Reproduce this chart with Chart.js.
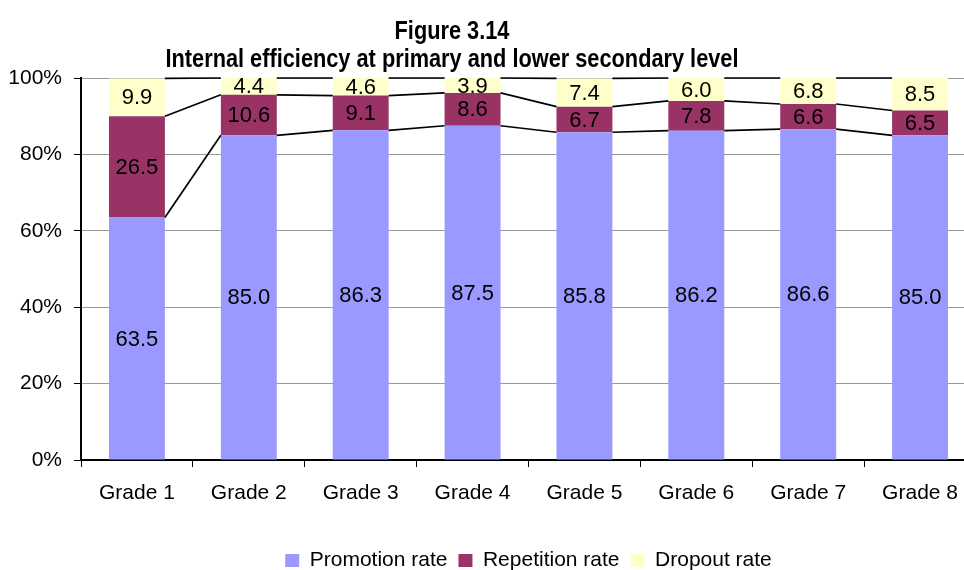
<!DOCTYPE html>
<html>
<head>
<meta charset="utf-8">
<script src="https://cdn.jsdelivr.net/npm/chart.js@4"></script>
<style>
  html, body { margin: 0; padding: 0; background: #fff; overflow: hidden; }
  #wrap { position: relative; width: 976px; height: 570px; }
  #titulo {
    position: absolute; left: 0; width: 904px; top: 16px;
    text-align: center; font-family: "Liberation Sans Narrow", "Arial Narrow", "Liberation Sans", Arial, sans-serif;
    font-weight: bold; font-size: 25px; line-height: 28px; color: #000;
    transform: scaleX(0.87);
  }
</style>
</head>
<body>
<div id="wrap">
  <canvas id="chart" width="976" height="570"></canvas>
  <div id="titulo">Figure 3.14<br>Internal efficiency at primary and lower secondary level</div>
</div>
<script>
// --- Datos ---
const grados = ['Grade 1', 'Grade 2', 'Grade 3', 'Grade 4', 'Grade 5', 'Grade 6', 'Grade 7', 'Grade 8'];
const promocion = [63.5, 85.0, 86.3, 87.5, 85.8, 86.2, 86.6, 85.0];
const repeticion = [26.5, 10.6, 9.1, 8.6, 6.7, 7.8, 6.6, 6.5];
const abandono = [9.9, 4.4, 4.6, 3.9, 7.4, 6.0, 6.8, 8.5];
const ticksY = [0, 20, 40, 60, 80, 100];

const fuente = '"Liberation Sans", Arial, sans-serif';

// etiquetas dentro de cada segmento
const etiquetasPlugin = {
  id: 'etiquetas',
  afterDatasetsDraw(chart) {
    const ctx = chart.ctx;
    ctx.save();
    ctx.font = '22px ' + fuente;
    ctx.fillStyle = '#000';
    ctx.textAlign = 'center';
    ctx.textBaseline = 'middle';
    chart.data.datasets.forEach((ds, i) => {
      chart.getDatasetMeta(i).data.forEach((bar, j) => {
        const y = (bar.y + bar.base) / 2;
        ctx.fillText(ds.data[j].toFixed(1), bar.x, y + 1);
      });
    });
    ctx.restore();
  }
};

// lineas de serie entre barras (estilo Excel)
const lineasSerie = {
  id: 'lineasSerie',
  afterDatasetsDraw(chart) {
    const ctx = chart.ctx;
    ctx.save();
    ctx.strokeStyle = '#000';
    ctx.lineWidth = 1.7;
    chart.data.datasets.forEach((ds, i) => {
      const barras = chart.getDatasetMeta(i).data;
      for (let j = 0; j < barras.length - 1; j++) {
        const a = barras[j], b = barras[j + 1];
        ctx.beginPath();
        ctx.moveTo(a.x + a.width / 2, a.y);
        ctx.lineTo(b.x - b.width / 2, b.y);
        ctx.stroke();
      }
    });
    ctx.restore();
  }
};

// centrar la leyenda bajo el area del grafico y no bajo todo el canvas
const leyendaCentrada = {
  id: 'leyendaCentrada',
  afterLayout(chart) {
    const ley = chart.legend;
    if (!ley) return;
    const dx = (chart.chartArea.left + chart.chartArea.right) / 2 - (ley.left + ley.right) / 2;
    ley.left += dx;
    ley.right += dx;
  }
};

new Chart(document.getElementById('chart').getContext('2d'), {
  type: 'bar',
  data: {
    labels: grados,
    datasets: [
      { label: 'Promotion rate', data: promocion, backgroundColor: '#9999FF' },
      { label: 'Repetition rate', data: repeticion, backgroundColor: '#993366' },
      { label: 'Dropout rate', data: abandono, backgroundColor: '#FFFFCC' }
    ]
  },
  options: {
    responsive: false,
    animation: false,
    layout: { padding: { top: 78, left: 0, right: 0, bottom: -11 } },
    datasets: { bar: { barPercentage: 0.5, categoryPercentage: 1, borderWidth: 0 } },
    plugins: {
      title: { display: false },
      tooltip: { enabled: false },
      legend: {
        position: 'bottom',
        labels: {
          color: '#000', font: { family: fuente, size: 21 },
          boxWidth: 14, boxHeight: 13, padding: 11
        }
      }
    },
    scales: {
      x: {
        stacked: true,
        grid: { drawOnChartArea: false, drawTicks: true, tickLength: 7, color: '#000', offset: true },
        border: { color: '#000', width: 2 },
        ticks: { color: '#000', font: { family: fuente, size: 21 }, padding: 14, maxRotation: 0 },
        afterFit: s => { s.height = 79; }
      },
      y: {
        stacked: true,
        min: 0, max: 100,
        afterBuildTicks: s => { s.ticks = ticksY.map(v => ({ value: v })); },
        grid: { color: '#999', borderDash: [2, 2], tickColor: '#000', tickBorderDash: [], tickLength: 7 },
        border: { color: '#000', width: 2 },
        ticks: { color: '#000', font: { family: fuente, size: 21 }, padding: 12, callback: v => v + '%' },
        afterFit: s => { s.width = 81; }
      }
    }
  },
  plugins: [etiquetasPlugin, lineasSerie, leyendaCentrada]
});
</script>
</body>
</html>
